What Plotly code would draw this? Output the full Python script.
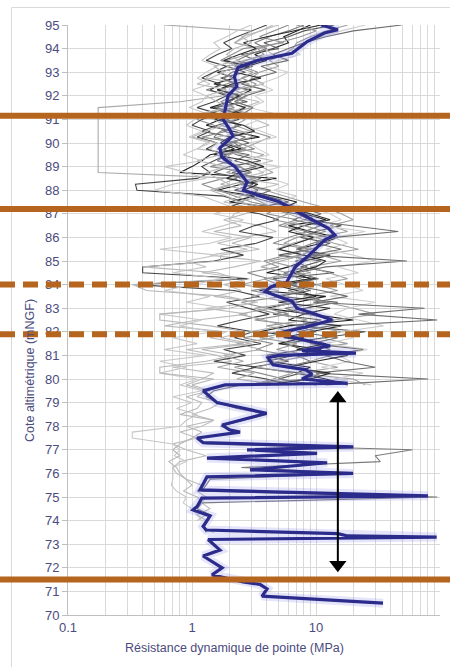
import plotly.graph_objects as go

# ---------------- DATA ----------------
# Mean profile (blue) : elevation (mNGF) and dynamic tip resistance (MPa)
mean_depth = [95.0, 94.8, 94.66, 94.3, 93.8, 93.5, 93.2, 92.8, 92.4, 92.0,
              91.4, 91.0, 90.6, 90.3, 89.8, 89.4, 89.0, 88.35, 88.0, 87.9,
              87.5, 87.25, 87.0, 86.6, 86.4, 86.1, 85.9, 85.5, 85.2, 84.75,
              84.4, 84.1, 83.9, 83.7, 83.4, 83.3, 83.0, 82.8, 82.5, 82.3,
              82.2, 82.0, 81.9, 81.6, 81.4, 81.2, 81.1, 81.0, 80.9, 80.6,
              80.4, 80.2, 80.0, 79.82, 79.75, 79.5, 79.0, 78.55, 78.3, 78.05,
              77.85, 77.75, 77.5, 77.3, 77.12, 77.0, 76.85, 76.65, 76.45, 76.15,
              76.0, 75.85, 75.3, 75.05, 74.95, 74.6, 74.45, 74.2, 73.75, 73.6,
              73.45, 73.35, 73.3, 73.2, 72.75, 72.5, 72.0, 71.7, 71.4, 71.3,
              71.1, 70.8, 70.5]
mean_value = [11, 15, 11.7, 8.5, 6.4, 3.4, 2.35, 2.2, 2.3, 1.95,
              1.85, 1.78, 2.0, 2.14, 1.68, 1.74, 2.22, 2.78, 2.6, 2.94,
              5.1, 6.2, 7.5, 10.5, 12.5, 14.2, 11.8, 9.8, 8.6, 6.8,
              6.2, 5.8, 4.3, 3.9, 5.6, 6.4, 7.0, 9.3, 13.5, 9.8,
              8.2, 5.6, 4.85, 9.0, 13.0, 7.7, 21, 5.0, 4.1, 4.5,
              8.2, 9.3, 7.7, 18, 1.85, 1.23, 1.59, 4.0, 2.6, 1.75,
              2.0, 2.44, 1.1, 1.23, 20, 2.78, 10.2, 1.32, 12.3, 2.94,
              19.9, 1.32, 1.16, 80, 1.2, 1.1, 1.02, 1.4, 1.23, 1.3,
              15, 18, 94, 1.35, 1.68, 1.23, 1.75, 1.45, 2.58, 3.53,
              4.03, 3.67, 34.7]

# Measurement elevations of individual penetrometer soundings (0.25 m step)
sounding_depth = [95.0, 94.75, 94.5, 94.25, 94.0, 93.75, 93.5, 93.25, 93.0, 92.75,
                  92.5, 92.25, 92.0, 91.75, 91.5, 91.25, 91.0, 90.75, 90.5, 90.25,
                  90.0, 89.75, 89.5, 89.25, 89.0, 88.75, 88.5, 88.25, 88.0, 87.75,
                  87.5, 87.25, 87.0, 86.75, 86.5, 86.25, 86.0, 85.75, 85.5, 85.25,
                  85.0, 84.75, 84.5, 84.25, 84.0, 83.75, 83.5, 83.25, 83.0, 82.75,
                  82.5, 82.25, 82.0, 81.75, 81.5, 81.25, 81.0, 80.75, 80.5, 80.25,
                  80.0, 79.75, 79.5, 79.25, 79.0, 78.75, 78.5, 78.25, 78.0, 77.75,
                  77.5, 77.25, 77.0, 76.75, 76.5, 76.25, 76.0, 75.75, 75.5, 75.25,
                  75.0, 74.75, 74.5, 74.25, 74.0, 73.75, 73.5]

s01 = [9, 7, 5.5, 6, 4.5, 3.2, 4, 2.8, 1.6, 2.2, 1.5, 3, 2.4, 2, 1.4, 2.6, 1.7,
       1.3, 2.2, 3.5, 1.8, 2.5, 1.4, 1.2, 1.0, 0.8, 4.8, 2.5, 1.6, 3.2, 2, 5, 8,
       12, 6, 9, 15, 11, 7, 13, 8, 6, 4, 10, 5.5, 3.5, 12, 7, 4, 9, 20, 6, 3.5,
       8, 5, 11, 6.5, 4, 9, 7, 12, 18]
s02 = [14, 8, 6, 3.8, 5, 2.5, 3.3, 1.9, 2.7, 1.7, 2.4, 1.6, 1.9, 2.8, 1.5, 1.9, 2.4,
       1.6, 1.2, 2.1, 2.9, 1.8, 2.3, 3.6, 2.0, 1.5, 2.6, 3.1, 2.2, 4, 6, 3.2, 7,
       9, 16, 10, 7.5, 13, 9, 5, 11, 7.5, 14, 4.5, 6, 9, 5, 15, 8, 4.5, 11, 7, 25,
       12, 5.5, 8, 4, 6, 3, 7.5, 5, 10]
s03 = [6, 4.5, 3.5, 5.5, 2.6, 2.1, 1.7, 2.5, 3.4, 2.6, 1.9, 1.3, 2.2, 1.7, 2.2, 1.3, 1.1,
       1.5, 1.9, 1.2, 2.4, 3.2, 1.7, 2.1, 1.4, 2.9, 1.8, 1.2, 1.6, 2.2, 3, 5, 4,
       7, 5, 8.5, 6, 4.5, 9, 6, 3.8, 5, 2.8, 4.2, 7, 3, 5.5, 2.5, 4, 6, 3.2, 8, 5,
       2.6, 4.5, 3.3, 6, 4, 2.2, 3.5, 5.5, 2.8]
s04 = [5, 3.5, 2.8, 2.2, 3.8, 4.5, 2.6, 2, 1.5, 1.3, 2.7, 3.8, 2.1, 3.5, 2.6, 1.9, 3.2,
       4.2, 2.8, 1.6, 1.3, 1.1, 2.6, 4.5, 2.9, 3.8, 2.4, 5, 3.2, 2.5, 1.8, 3, 2.2,
       2, 3.5, 4.8, 2.6, 1.6, 2.8, 1.4, 3.6, 2.2, 1.2, 2.9, 1.8, 2.5, 1.5, 3.4, 1.3,
       2.8, 1.1, 0.6, 1.9, 1.4, 2.6, 0.9, 1.6, 2.1, 0.7, 1.5, 1.2,
       0.9, 1.3, 1.1, 1.7, 1.4, 1.0, 1.5, 1.2,
       0.8, 1.1, 0.7, 0.9, 1.3, 0.8, 0.7, 0.75, 0.9, 1.2, 1.1, 1.3,
       1.2, 1.4, 1.1, 1.3, 1.2, 1.5]
s05 = [18, 12, 9, 7, 6.5, 5.5, 4.2, 5, 3.5, 3, 3.8, 2.2, 2.8, 2.3, 3, 2, 2.7,
       2.2, 3, 4.3, 3.3, 2.5, 3.8, 2.7, 3.6, 4.5, 3, 2.4, 3.9, 5.5, 8, 12, 16,
       20, 13, 18, 10, 14, 22, 11, 16, 9, 13, 18, 10, 15, 8, 12, 20, 30, 14, 9, 16,
       11, 18, 8, 13, 9, 15, 7, 20, 25]
s06 = [25, 16, 11, 8, 6, 7.5, 5, 4, 6, 4.8, 3.5, 4.5, 3.2, 3.8, 2.9, 4.6, 3.5,
       2.7, 3.6, 4.8, 2.9, 3.4, 4.2, 2.6, 5.2, 3.5, 4.3, 6, 4.6, 7, 5, 9, 13,
       16, 11, 25, 14, 18, 12, 20, 30, 15, 22, 12, 17, 24, 13, 30, 18, 14, 22, 35, 16,
       20, 12, 26, 15, 19, 11, 24, 14, 28]
s07 = [4, 3, 2.3, 1.8, 2.1, 1.6, 1.3, 1.9, 1.5, 1.2, 1.7, 1.4, 1.9, 1.5, 1.1, 1.6, 1.2,
       1.0, 1.4, 1.1, 1.6, 1.3, 1.9, 1.5, 1.2, 1.4, 1.1, 0.35, 0.36, 1.8, 2.6, 1.9, 3.5,
       5, 3.2, 2.4, 4.5, 3.3, 1.7, 2.6, 1.5, 0.4, 0.4, 2.8, 0.35, 2.2, 3.5, 1.9, 2.8,
       4.2, 2.5, 1.6, 3.1, 2.2, 3.6, 1.8, 2.7, 1.5, 3.3, 2.1, 4, 6]
s08 = [0.6, 3, 2.6, 2.2, 3.4, 2.8, 1.9, 2.5, 1.7, 2.1, 2.9, 2.3, 1.8, 0.8, 0.175, 0.175, 0.175,
       0.175, 0.175, 0.175, 0.175, 0.175, 0.175, 0.175, 0.175, 0.175, 2.3, 1.7, 2.8,
       3.5, 2.4, 4.2, 6, 8, 5.5, 7, 10, 6.5, 4.8, 8, 5.2, 3.6, 6, 4, 2.5,
       5, 3, 6.5, 4.4, 2.4, 3.8, 5.5, 2.9, 4.6, 2.3, 3.6, 1.8, 2.6, 1.6, 3.2, 2.3, 5]
s09 = [49, 20, 12, 8, 6, 4.5, 6, 3.6, 4.8, 3.2, 2.5, 3.9, 2.7, 2.2, 3.1, 2.6, 1.9,
       2.5, 1.8, 2.7, 2.1, 1.6, 2.9, 2.2, 3.3, 2.1, 3.6, 2.6, 4.3, 3.3, 5, 7.5, 11,
       8, 19, 46, 14, 10, 16, 9, 54, 12, 7, 10.5, 6, 11, 18, 9.5, 75, 22, 95, 13, 7,
       15, 9, 24, 12, 17, 30, 10, 80, 12]
s10 = [8, 6, 4.2, 3.2, 4, 2.9, 2.3, 3.1, 2.1, 1.8, 2.2, 1.7, 2.5, 2.0, 1.6, 2.3, 1.8,
       2.4, 1.7, 1.5, 2.2, 2.6, 1.9, 1.6, 2.4, 3.0, 2.2, 2.7, 3.4, 2.8, 4.2, 6.5, 9,
       6.5, 11, 8, 12.5, 9.5, 7, 11, 6.8, 8.5, 5.5, 7.5, 10, 6, 9, 12, 5.6, 8.5, 14, 7, 10,
       6.2, 9.5, 13, 7, 9, 5.5, 11, 8.5,
       2.5, 1.5, 1.3, 1.6, 2.3, 4.0, 2.6, 1.7, 2.4, 1.1, 1.3, 60, 30, 33, 2.5, 20,
       1.4, 1.3, 1.2, 95, 1.2, 1.1, 1.4, 1.3, 1.25, 1.3]
s11 = [3, 2.3, 1.9, 1.5, 1.7, 1.4, 1.2, 1.6, 1.3, 1.1, 1.4, 1.0, 1.3, 1.2, 0.95, 1.3, 1.05,
       0.9, 1.2, 0.95, 1.4, 1.1, 0.85, 1.2, 0.6, 0.9, 1.3, 0.7, 0.5, 1.2, 1.6, 2.2, 1.5,
       2.6, 1.8, 1.2, 2.1, 1.4, 0.55, 1.6, 0.9, 1.3, 0.7, 1.8, 1.0, 0.6, 1.4, 0.9, 1.9,
       0.55, 1.2, 0.8, 1.5, 0.7, 1.1, 0.6, 1.3, 0.55, 0.9, 0.55, 1.1,
       0.8, 1.2, 0.7, 1.0, 0.75, 1.1, 0.9, 0.8, 0.33, 0.33, 0.7, 0.8,
       0.72, 0.9, 0.7, 0.7, 0.7, 0.68, 0.75, 0.9, 0.85, 1.0, 1.1, 1.2]
s12 = [11, 6.5, 4, 2.6, 3.3, 2.4, 1.8, 2.9, 2.2, 3.6, 2.1, 1.6, 2.4, 1.9, 2.7, 2.1, 1.5,
       2.6, 3.2, 2.0, 1.7, 2.2, 1.5, 2.8, 3.8, 2.4, 1.9, 3.4, 2.6, 4.5, 7, 5.5, 9,
       13, 8, 6, 9.5, 7, 5, 8, 12, 10, 6.5, 9, 4.5, 7, 10, 5, 13, 8, 6, 16, 9,
       5.5, 12, 7, 18, 10, 6, 13, 9, 4]
s13 = [7, 10, 7.5, 5, 3.4, 3.8, 2.7, 2.2, 3.1, 2.5, 3.3, 2.8, 2.0, 2.6, 1.8, 2.9, 2.2,
       1.7, 2.5, 3.1, 1.9, 2.7, 2.0, 1.8, 2.5, 1.9, 3.3, 2.1, 1.5, 2.8, 3.6, 4.5, 6,
       4.5, 8, 12, 7, 5.5, 10, 7.5, 4.2, 6.5, 9, 3.8, 5, 8, 4.6, 7, 3.2, 5, 8.5, 4, 6.5,
       3.5, 7, 4.8, 9, 5, 3.4, 6.5, 4.5, 3]
s14 = [4.5, 3.6, 2.5, 3, 2.2, 1.9, 2.4, 1.5, 1.8, 1.4, 1.1, 1.9, 1.3, 1.6, 1.9, 1.2, 1.5,
       1.8, 1.3, 1.0, 1.6, 1.4, 1.7, 1.1, 1.9, 1.3, 1.6, 2.0, 1.4, 1.9, 2.4, 3.3, 2.7,
       1.8, 2.5, 1.5, 3.0, 2.1, 3.5, 1.7, 1.7, 0.4, 1.6, 2.3, 0.33, 0.43, 1.9, 3.2, 2.0,
       0.55, 0.55, 1.4, 2.7, 1.7, 3.0, 1.2, 2.2, 1.3, 0.55, 0.55, 1.5,
       1.0, 1.4, 0.9, 1.2, 1.1, 0.8, 1.5, 0.9, 1.2, 1.0, 0.8, 0.7,
       0.8, 0.65, 0.75, 0.8, 0.9, 1.0, 0.85, 1.1, 1.2, 1.0, 1.3, 1.1]

soundings = [s01, s02, s03, s04, s05, s06, s07, s08, s09, s10, s11, s12, s13, s14]
sounding_colors = ["#1e1e1e", "#5a5a5a", "#8c8c8c", "#bdbdbd", "#a0a0a0", "#cfcfcf", "#454545",
                   "#aaaaaa", "#6e6e6e", "#7a7a7a", "#c8c8c8", "#2a2a2a", "#999999", "#b8b8b8"]

# Layer boundaries (mNGF)
solid_limits = [91.15, 87.2, 71.5]
dashed_limits = [84.0, 81.9]

# Arrow marking the studied layer
arrow_x = 15.0
arrow_top = 79.45
arrow_bottom = 71.85

x_tickvals = [0.1, 0.2, 0.3, 0.4, 0.5, 0.6, 0.7, 0.8, 0.9,
              1, 2, 3, 4, 5, 6, 7, 8, 9,
              10, 20, 30, 40, 50, 60, 70, 80, 90, 100]
x_ticklabels = {0.1: "0.1", 1: "1", 10: "10", 100: "100"}

# ---------------- FIGURE ----------------
FONT = "Liberation Sans, Arial, sans-serif"
LABEL_COLOR = "#4b4b7e"
ORANGE = "#b5651d"

fig = go.Figure()

for vals, col in zip(soundings, sounding_colors):
    fig.add_trace(go.Scatter(x=vals, y=sounding_depth[:len(vals)], mode="lines",
                             line=dict(color=col, width=1.1), hoverinfo="skip",
                             showlegend=False))

# glow under the mean line
fig.add_trace(go.Scatter(x=mean_value, y=mean_depth, mode="lines",
                         line=dict(color="rgba(130,130,230,0.22)", width=9),
                         hoverinfo="skip", showlegend=False))
fig.add_trace(go.Scatter(x=mean_value, y=mean_depth, mode="lines",
                         line=dict(color="#2b2b8c", width=3.2),
                         showlegend=False))

# arrow (line + two heads)
fig.add_trace(go.Scatter(x=[arrow_x, arrow_x], y=[arrow_top - 0.3, arrow_bottom + 0.3],
                         mode="lines", line=dict(color="black", width=2),
                         hoverinfo="skip", showlegend=False))
fig.add_trace(go.Scatter(x=[arrow_x], y=[arrow_top - 0.28], mode="markers",
                         marker=dict(symbol="triangle-up", size=15, color="black"),
                         hoverinfo="skip", showlegend=False))
fig.add_trace(go.Scatter(x=[arrow_x], y=[arrow_bottom + 0.28], mode="markers",
                         marker=dict(symbol="triangle-down", size=15, color="black"),
                         hoverinfo="skip", showlegend=False))

L, R, T, B = 68, 10, 25, 52
W, H = 450, 667
pw, ph = W - L - R, H - T - B

def px_to_paper_x(px):
    return (px - L) / pw

def px_to_paper_y(py):
    return (H - B - py) / ph

shapes = []
for yv in solid_limits:
    shapes.append(dict(type="line", xref="paper", yref="y",
                       x0=px_to_paper_x(0), x1=px_to_paper_x(W), y0=yv, y1=yv,
                       line=dict(color=ORANGE, width=6), layer="above"))
for yv in dashed_limits:
    shapes.append(dict(type="line", xref="paper", yref="y",
                       x0=px_to_paper_x(0), x1=px_to_paper_x(W), y0=yv, y1=yv,
                       line=dict(color=ORANGE, width=6, dash="15px,8px"), layer="above"))
# outer chart frame
shapes.append(dict(type="rect", xref="paper", yref="paper",
                   x0=px_to_paper_x(11.5), x1=px_to_paper_x(470),
                   y0=px_to_paper_y(680), y1=px_to_paper_y(7.5),
                   line=dict(color="#d9d9d9", width=1), layer="below"))

fig.update_layout(
    width=W, height=H,
    margin=dict(l=L, r=R, t=T, b=B),
    paper_bgcolor="white", plot_bgcolor="white",
    font=dict(family=FONT, size=12, color=LABEL_COLOR),
    shapes=shapes,
    annotations=[
        dict(text="Résistance dynamique de pointe (MPa)", xref="paper", yref="paper",
             x=px_to_paper_x(234), y=px_to_paper_y(648), showarrow=False,
             xanchor="center", yanchor="middle",
             font=dict(family=FONT, size=12.5, color=LABEL_COLOR)),
        dict(text="Cote altimétrique (mNGF)", xref="paper", yref="paper",
             x=px_to_paper_x(30), y=px_to_paper_y(371), showarrow=False,
             textangle=-90, xanchor="center", yanchor="middle",
             font=dict(family=FONT, size=12.5, color=LABEL_COLOR)),
    ],
)

fig.update_xaxes(type="log", range=[-1, 2],
                 tickmode="array", tickvals=x_tickvals,
                 ticktext=[x_ticklabels.get(v, "") for v in x_tickvals],
                 showgrid=True, gridcolor="#d9d9d9", gridwidth=1,
                 showline=True, linecolor="#bfbfbf", linewidth=1,
                 ticks="", zeroline=False,
                 tickfont=dict(family=FONT, size=13, color=LABEL_COLOR))
fig.update_yaxes(range=[70, 95], tick0=70, dtick=1,
                 showgrid=True, gridcolor="#d9d9d9", gridwidth=1,
                 showline=True, linecolor="#bfbfbf", linewidth=1,
                 ticks="outside", ticklen=5, tickcolor="#bfbfbf",
                 zeroline=False,
                 tickfont=dict(family=FONT, size=13, color=LABEL_COLOR))

fig.write_html("out.html",
               config={"displayModeBar": False},
               post_script="document.body.style.margin='0';document.body.style.overflow='hidden';")
